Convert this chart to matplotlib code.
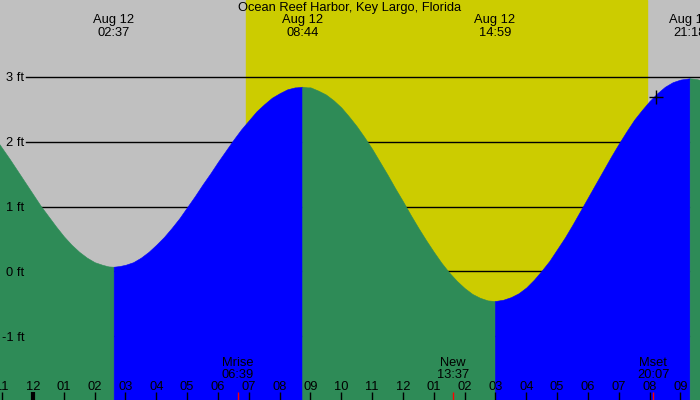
import matplotlib
matplotlib.use("Agg")
import matplotlib.pyplot as plt
import matplotlib.transforms as mtransforms

plt.rcParams['font.family'] = ['Liberation Sans', 'DejaVu Sans']

# hours from midnight of Aug 12 (negative = Aug 11), heights in ft
times = [-1.1, -0.75, -0.5, -0.25, 0.0, 0.25, 0.5, 0.75, 1.0, 1.25, 1.5, 1.75, 2.0, 2.25, 2.45, 2.617,
         2.8, 3.0, 3.25, 3.5, 3.75, 4.0, 4.25, 4.5, 4.75, 5.0, 5.25, 5.5, 5.75, 6.0, 6.25, 6.5,
         6.75, 7.0, 7.25, 7.5, 7.75, 8.0, 8.25, 8.5, 8.55, 8.733,
         8.9, 9.0, 9.25, 9.5, 9.75, 10.0, 10.25, 10.5, 10.75, 11.0, 11.25, 11.5, 11.75, 12.0,
         12.25, 12.5, 12.75, 13.0, 13.25, 13.5, 13.75, 14.0, 14.25, 14.5, 14.75, 14.983,
         15.25, 15.5, 15.75, 16.0, 16.25, 16.5, 16.75, 17.0, 17.25, 17.5, 17.75, 18.0, 18.25,
         18.5, 18.75, 19.0, 19.25, 19.5, 19.75, 20.0, 20.25, 20.5, 20.75, 21.0, 21.15, 21.3,
         21.5, 21.7]
heights = [1.97, 1.73, 1.55, 1.37, 1.19, 1.01, 0.85, 0.69, 0.54, 0.41, 0.30, 0.21, 0.14, 0.10, 0.075, 0.07,
           0.08, 0.10, 0.14, 0.21, 0.30, 0.41, 0.53, 0.67, 0.82, 0.99, 1.16, 1.34, 1.51, 1.69, 1.86, 2.03,
           2.19, 2.33, 2.47, 2.58, 2.68, 2.75, 2.81, 2.84, 2.84, 2.85,
           2.84, 2.84, 2.79, 2.73, 2.64, 2.53, 2.39, 2.24, 2.07, 1.89, 1.69, 1.49, 1.28, 1.08,
           0.87, 0.67, 0.48, 0.30, 0.13, -0.02, -0.15, -0.26, -0.35, -0.41, -0.45, -0.46,
           -0.44, -0.40, -0.34, -0.25, -0.13, 0.01, 0.16, 0.34, 0.52, 0.72, 0.93, 1.14, 1.35,
           1.56, 1.77, 1.97, 2.16, 2.34, 2.49, 2.63, 2.75, 2.85, 2.92, 2.96, 2.97, 2.98,
           2.97, 2.95]

# high / low tides shown at the top
extreme_times = [2.617, 8.733, 14.983, 21.3]
extreme_labels = ["02:37", "08:44", "14:59", "21:18"]
extreme_date = "Aug 12"

sunrise = 6.92
sunset = 19.92

# moon events
moon_times = [6.65, 13.617, 20.117]
moon_names = ["Mrise", "New", "Mset"]
moon_labels = ["06:39", "13:37", "20:07"]

hour_ticks = list(range(-1, 22))
y_levels = [3, 2, 1, 0, -1]

now_time = 20.2
now_height = 2.69

title = "Ocean Reef Harbor, Key Largo, Florida"
fs = 9.3
green = "#2E8B57"
blue = "#0000FF"

fig = plt.figure(figsize=(7, 4), dpi=100)
ax = fig.add_axes([0, 0, 1, 1])
ax.set_xlim(-1.070, 21.635)
ax.set_ylim(-1.988, 4.189)
ax.axis("off")

# night / day background
ax.axvspan(-2, 23, color="#C0C0C0", zorder=0)
ax.axvspan(sunrise, sunset, color="#CCCC00", zorder=0)

# grid lines (hidden under the water)
for lv in y_levels:
    ax.axhline(lv, xmin=26 / 700, xmax=1, color="black", lw=1, zorder=1)

# water: green when falling, blue when rising
bounds = [times[0]] + extreme_times + [times[-1]]
for a, b in zip(bounds[:-1], bounds[1:]):
    seg_t = [t for t in times if a <= t <= b]
    seg_h = [h for t, h in zip(times, heights) if a <= t <= b]
    col = green if seg_h[-1] < seg_h[0] else blue
    ax.fill_between(seg_t, seg_h, -3, facecolor=col, edgecolor=col, lw=0.4, zorder=2,
                    antialiased=False)

trans = mtransforms.blended_transform_factory(ax.transData, ax.transAxes)
trans_y = mtransforms.blended_transform_factory(ax.transAxes, ax.transData)
dy = 1.5 / 64.75

for lv in y_levels:
    ax.text(24 / 700, lv - dy, f"{lv} ft", ha="right", va="center", fontsize=fs, transform=trans_y, zorder=5)

# hour ticks and labels
for h in hour_ticks:
    lbl = "%02d" % (((h - 1) % 12) + 1)
    ax.text(h, 12.5 / 400, lbl, ha="center", va="center", fontsize=fs, transform=trans, zorder=5)
    lw = 3 if h % 24 == 0 else 1
    ax.plot([h, h], [0, 8 / 400], color="black", lw=lw, transform=trans, zorder=5,
            solid_capstyle="butt")

for t, n, l in zip(moon_times, moon_names, moon_labels):
    ax.plot([t, t], [0, 8 / 400], color="red", lw=1, transform=trans, zorder=6, solid_capstyle="butt")
    ax.text(t, 37.5 / 400, n, ha="center", va="center", fontsize=fs, transform=trans, zorder=5)
    ax.text(t, 24.5 / 400, l, ha="center", va="center", fontsize=fs, transform=trans, zorder=5)

for t, l in zip(extreme_times, extreme_labels):
    ax.text(t, 1 - 20.5 / 400, extreme_date, ha="center", va="center", fontsize=fs, transform=trans, zorder=5)
    ax.text(t, 1 - 32.5 / 400, l, ha="center", va="center", fontsize=fs, transform=trans, zorder=5)

ax.text(0.5, 1 - 8 / 400, title, ha="center", va="center", fontsize=fs, transform=ax.transAxes, zorder=5)

ax.plot([now_time], [now_height], marker="+", color="black", ms=10, mew=1, zorder=6)

fig.savefig("out.png", dpi=100)
